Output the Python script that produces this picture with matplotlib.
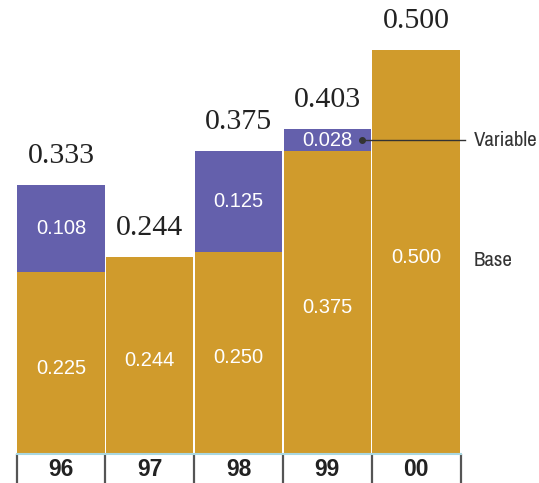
import numpy as np
import matplotlib.pyplot as plt

years = ['96', '97', '98', '99', '00']
base = [0.225, 0.244, 0.250, 0.375, 0.500]
variable = [0.108, 0.000, 0.125, 0.028, 0.000]
totals = [0.333, 0.244, 0.375, 0.403, 0.500]

gold = '#D09B2C'
purple = '#6460AC'

fig = plt.figure(figsize=(5.39, 4.83), dpi=100)
W, H = 539.0, 483.0
x = np.arange(len(years))

# main bar area
ax = fig.add_axes([16.5 / W, 29 / H, 444 / W, 454 / H])
ax.bar(x, base, width=0.985, color=gold, linewidth=0)
ax.bar(x, variable, bottom=base, width=0.985, color=purple, linewidth=0)
ax.set_xlim(-0.5, 4.5)
ax.set_ylim(0, 454 / 807)
ax.axis('off')

for i in range(len(years)):
    ax.text(x[i], base[i] / 2 - 0.006, f'{base[i]:.3f}', ha='center', va='center',
            color='white', fontsize=14.5, family='Liberation Sans')
    if variable[i] > 0:
        ax.text(x[i], base[i] + variable[i] / 2, f'{variable[i]:.3f}',
                ha='center', va='center', color='white', fontsize=14.5,
                family='Liberation Sans')
    ax.text(x[i], totals[i] + 0.02, f'{totals[i]:.3f}', ha='center',
            va='bottom', color='#222222', fontsize=21.5, family='Liberation Serif')

# legend callouts on the right
side_font = ['Archivo Narrow', 'PT Sans Narrow', 'DejaVu Sans']
dot_y = base[3] + variable[3] / 2
ax.plot([3.39, 4.55], [dot_y, dot_y], color='#333333', lw=1, clip_on=False)
ax.plot([3.39], [dot_y], 'o', color='#333333', ms=4, clip_on=False)
ax.text(4.65, dot_y, 'Variable', ha='left', va='center', fontsize=15,
        color='#333333', family=side_font, clip_on=False)
ax.text(4.65, base[4] / 2 - 0.01, 'Base', ha='left', va='center', fontsize=15,
        color='#333333', family=side_font, clip_on=False)

# year row underneath
tab = fig.add_axes([16.5 / W, 0, 444 / W, 29 / H])
tab.set_xlim(-0.5, 4.5)
tab.set_ylim(0, 1)
tab.axis('off')
tab.vlines(np.arange(-0.5, 5.0, 1.0), 0, 1, color='#555555', lw=1.6, clip_on=False)
tab.axhline(1, color='#A9D7E0', lw=1.5, clip_on=False)
for i, yr in enumerate(years):
    tab.text(x[i], 0.47, yr, ha='center', va='center', fontsize=16.5,
             fontweight='bold', color='#222222', family='Liberation Sans')

fig.savefig('out.png', dpi=100)
